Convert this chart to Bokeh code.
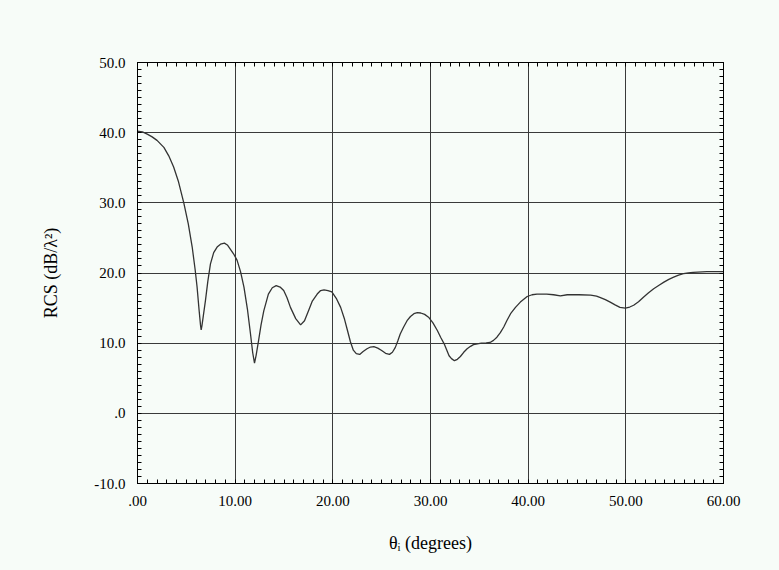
from bokeh.plotting import figure
from bokeh.models import LinearAxis, FixedTicker, Range1d
from bokeh.embed import file_html
from bokeh.resources import INLINE

theta = [0.0, 0.5, 1.0, 1.5, 2.0, 2.7, 3.2, 3.7, 4.2, 4.74, 5.2, 5.6, 5.9, 6.1, 6.3, 6.45,
         6.52, 6.6, 6.75, 6.96, 7.2, 7.47, 7.8, 8.15, 8.5, 8.9, 9.2, 9.5, 9.85, 10.2, 10.55,
         10.9, 11.25, 11.57, 11.8, 11.98, 12.15, 12.4, 12.65, 12.93, 13.4, 13.8, 14.2, 14.6,
         14.97, 15.3, 15.66, 16.2, 16.7, 17.1, 17.5, 17.9, 18.4, 18.75, 19.1, 19.5, 19.9,
         20.35, 20.8, 21.2, 21.5, 21.8, 22.1, 22.4, 22.75, 23.1, 23.5, 23.85, 24.2, 24.6,
         25.0, 25.4, 25.8, 26.1, 26.4, 26.65, 26.9, 27.25, 27.6, 27.95, 28.3, 28.65, 29.0,
         29.4, 29.8, 30.25, 30.7, 31.05, 31.4, 31.9, 32.15, 32.45, 32.75, 33.06, 33.4, 33.75,
         34.1, 34.4, 35.2, 35.7, 36.1, 36.45, 36.8, 37.15, 37.5, 37.85, 38.2, 38.7, 39.2,
         39.9, 40.4, 40.9, 41.9, 42.6, 43.3, 44.0, 45.2, 46.4, 47.0, 47.4, 47.9, 48.4, 48.9,
         49.4, 49.95, 50.4, 50.8, 51.3, 51.8, 52.3, 52.85, 53.4, 53.9, 54.4, 54.9, 55.4,
         55.9, 56.4, 56.9, 58.3, 60.0]
rcs = [40.2, 40.1, 39.8, 39.4, 38.9, 37.9, 36.7, 35.1, 33.0, 30.0, 27.0, 23.7, 20.5, 18.0,
       14.8, 12.6, 11.9, 12.5, 14.0, 16.1, 18.8, 21.3, 22.9, 23.7, 24.1, 24.25, 24.0, 23.4,
       22.7, 21.8, 20.2, 18.0, 14.9, 11.3, 8.6, 7.15, 8.3, 10.4, 12.6, 14.6, 17.0, 17.9,
       18.2, 18.0, 17.5, 16.5, 15.1, 13.5, 12.6, 13.2, 14.6, 16.0, 17.0, 17.5, 17.6, 17.5,
       17.3, 16.4, 15.1, 13.4, 11.8, 10.2, 9.0, 8.5, 8.4, 8.8, 9.2, 9.45, 9.5, 9.3, 8.96,
       8.55, 8.4, 8.7, 9.4, 10.3, 11.3, 12.3, 13.2, 13.8, 14.2, 14.35, 14.3, 14.1, 13.7,
       12.9, 11.8, 10.8, 9.9, 8.2, 7.8, 7.5, 7.7, 8.1, 8.7, 9.2, 9.55, 9.8, 10.0, 10.05,
       10.1, 10.4, 10.85, 11.5, 12.3, 13.3, 14.2, 15.1, 15.85, 16.65, 16.9, 17.0, 17.0,
       16.9, 16.75, 16.9, 16.9, 16.85, 16.7, 16.5, 16.2, 15.85, 15.45, 15.1, 15.0, 15.15,
       15.4, 15.9, 16.55, 17.15, 17.75, 18.25, 18.7, 19.1, 19.4, 19.7, 19.9, 20.0, 20.1,
       20.2, 20.2]

x_ticks = [0, 10, 20, 30, 40, 50, 60]
x_labels = [".00", "10.00", "20.00", "30.00", "40.00", "50.00", "60.00"]
y_ticks = [-10, 0, 10, 20, 30, 40, 50]
y_labels = ["-10.0", ".0", "10.0", "20.0", "30.0", "40.0", "50.0"]

BG = "#f7fcf8"
FONT = "Liberation Serif"

p = figure(width=771, height=562, output_backend="svg", toolbar_location=None,
           x_range=Range1d(0, 60), y_range=Range1d(-10, 50),
           min_border_left=137, min_border_right=48, min_border_top=62, min_border_bottom=79)
p.background_fill_color = BG
p.border_fill_color = BG
p.outline_line_color = "black"
p.outline_line_width = 1

minor = list(range(-10, 61))
xt = FixedTicker(ticks=x_ticks, minor_ticks=minor)
yt = FixedTicker(ticks=y_ticks, minor_ticks=minor)

def style(ax):
    ax.major_tick_in = 0
    ax.major_tick_out = 0
    ax.minor_tick_in = 4
    ax.minor_tick_out = 0
    ax.minor_tick_line_color = "black"
    ax.axis_line_color = "black"
    ax.major_label_text_font = FONT
    ax.major_label_text_font_size = "15px"
    ax.major_label_text_color = "black"
    ax.axis_label_text_font = FONT
    ax.axis_label_text_font_size = "18px"
    ax.axis_label_text_font_style = "normal"
    ax.axis_label_text_color = "black"
    ax.major_label_standoff = 12

p.xaxis.ticker = xt
p.yaxis.ticker = yt
p.xaxis.major_label_overrides = dict(zip(x_ticks, x_labels))
p.yaxis.major_label_overrides = dict(zip(y_ticks, y_labels))
style(p.xaxis[0])
style(p.yaxis[0])
p.xaxis.axis_label = "θᵢ (degrees)"
p.yaxis.axis_label = "RCS (dB/λ²)"
p.xaxis.axis_label_standoff = 24
p.yaxis.axis_label_standoff = 30

top = LinearAxis(ticker=FixedTicker(ticks=x_ticks, minor_ticks=minor),
                 major_label_overrides={t: "" for t in x_ticks})
right = LinearAxis(ticker=FixedTicker(ticks=y_ticks, minor_ticks=minor),
                   major_label_overrides={t: "" for t in y_ticks})
style(top)
style(right)
p.add_layout(top, "above")
p.add_layout(right, "right")

p.xgrid.ticker = xt
p.ygrid.ticker = yt
p.grid.grid_line_color = "#3a3a3a"
p.grid.grid_line_width = 1
p.grid.grid_line_alpha = 1

p.line(theta, rcs, line_color="#333333", line_width=1.3)

html = file_html(p, INLINE)
html = html.replace("<body>", '<body style="background:%s">' % BG)
open("out.html", "w").write(html)
